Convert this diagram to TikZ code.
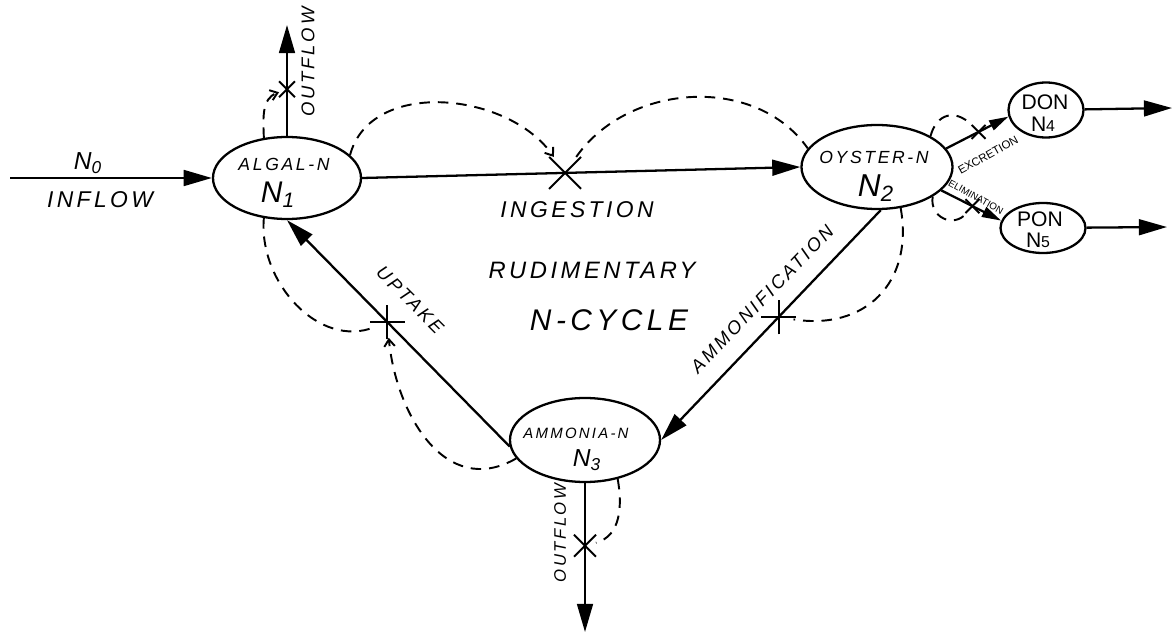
\documentclass[tikz,border=0pt]{standalone}
\usepackage{fontspec}
\setsansfont{Liberation Sans}
\usepackage{tikz}
\usetikzlibrary{
	arrows.meta,
	shapes.geometric,
	shapes.misc
}

\begin{document}
\begin{tikzpicture}[x=0.2mm, y=-0.2mm,
		pool/.style={draw, ellipse, line width=1.3pt, inner sep=0pt},
		flow/.style={line width=1.3pt, -{Triangle[length=16pt, width=9pt]}},
		flowsm/.style={line width=1.3pt, -{Triangle[length=11pt, width=6pt]}},
		ctrl/.style={line width=1.1pt, dash pattern=on 6pt off 4.5pt},
		ctrltip/.style={ctrl, -{Straight Barb[length=4pt, width=6pt]}},
		valve/.style={draw, cross out, line width=1.1pt, inner sep=0pt, minimum size=#1},
		valve/.default=3mm,
		hand/.style={font=\sffamily\itshape\fontsize{#1}{#1}\selectfont\addfontfeatures{LetterSpace=15}, inner sep=0pt},
		hand/.default=13,
		upr/.style={font=\sffamily\fontsize{#1}{#1}\selectfont, inner sep=0pt}
	]
		\useasboundingbox (0,0) rectangle (1175,639);
		
		% 库
		\node[pool, minimum width=29.6mm, minimum height=16.4mm] (N1) at (287,178) {};
		\node[pool, minimum width=30.2mm, minimum height=16.8mm] (N2) at (877,167) {};
		\node[pool, minimum width=30mm, minimum height=16.8mm] (N3) at (585,440) {};
		\node[pool, minimum width=15mm, minimum height=11mm] (N4) at (1046,110) {};
		\node[pool, minimum width=17mm, minimum height=10mm] (N5) at (1043,228) {};
		
		% 库内文字
		\node[hand=10] (t1) at (284,164) {ALGAL-N};
		\node[hand=17] (s1) at (278,195) {N\textsubscript{1}};
		\node[hand=10] (t2) at (874,157) {OYSTER-N};
		\node[hand=18] (s2) at (876,188) {N\textsubscript{2}};
		\node[hand=8.5] (t3) at (576,433) {AMMONIA-N};
		\node[hand=14] (s3) at (587,460) {N\textsubscript{3}};
		\node[upr=12] (t4) at (1045,102) {DON};
		\node[upr=12] (s4) at (1043,124) {N{\fontsize{9}{9}\selectfont 4}};
		\node[upr=12] (t5) at (1040,219) {PON};
		\node[upr=12] (s5) at (1038,240) {N{\fontsize{9}{9}\selectfont 5}};
		
		% 端点
		\coordinate (src) at (10,178);
		\coordinate (out1) at (287,25);
		\coordinate (out3) at (585,632);
		\coordinate (out4) at (1172,108);
		\coordinate (out5) at (1167,227);
		
		% 物质流
		\draw[flow] (src) -- (N1);
		\draw[flow] (N1) -- node[valve=2.8mm, pos=0.42] (v1) {} (out1);
		\draw[flow] (N1.east) -- node[valve=6mm, pos=0.463] (v12) {} (N2.west);
		\draw[flow] (N2.-85) -- node[valve=4.5mm, rotate=45, pos=0.465] (v23) {} (N3.east);
		\draw[flow] (N3.185) -- node[valve=4.5mm, rotate=45, pos=0.55] (v31) {} (N1.south);
		\draw[flow] (N3) -- node[valve=4mm, pos=0.42] (v3) {} (out3);
		\draw[flowsm] (N2.15) -- node[valve=2.4mm, pos=0.52] (v24) {} (N4.190);
		\draw[flowsm] (N2.-20) -- node[valve=2.4mm, pos=0.52] (v25) {} (N5.170);
		\draw[flow] (N4) -- (out4);
		\draw[flow] (N5) -- (out5);
		
		% 控制（虚线）
		\draw[ctrltip] (N1.120) to[out=92, in=200] (v1);
		\draw[ctrltip] (N1.20) to[out=75, in=125] (v12);
		\draw[ctrl] (v12) to[out=55, in=125] (N2.165);
		\draw[ctrl] (N1.240) to[out=265, in=195] (v31);
		\draw[ctrltip] (N3.195) to[out=210, in=270, looseness=1.2] (v31);
		\draw[ctrl] (N2.-60) to[out=-80, in=-15, looseness=1.3] (v23);
		\draw[ctrl] (N3.-50) to[out=-80, in=15] (v3);
		\draw[ctrl] (N2.30) to[out=75, in=135, looseness=1.4] (v24);
		\draw[ctrl] (N2.-28) to[out=-100, in=-130, looseness=1.4] (v25);
		
		% 标注
		\node[hand=14] (n0) at (88,163) {N\textsubscript{0}};
		\node[hand] (inflow) at (100,200) {INFLOW};
		\node[hand] (ingest) at (577,210) {INGESTION};
		\node[hand=13.5] (rud) at (592,270) {RUDIMENTARY};
		\node[hand=17] (ncyc) at (609,320) {N-CYCLE};
		\node[hand=10.5, rotate=-45] (upt) at (410,300) {UPTAKE};
		\node[hand=10.5, rotate=46] (amm) at (762,299) {AMMONIFICATION};
		\node[hand=10.5, rotate=90] (of1) at (308,62) {OUTFLOW};
		\node[hand=9.5, rotate=90] (of3) at (560,533) {OUTFLOW};
		\node[upr=6.5, rotate=29] (exc) at (988,155) {EXCRETION};
		\node[upr=5.5, rotate=-29] (elim) at (976,197) {ELIMINATION};
	\end{tikzpicture}
\end{document}
